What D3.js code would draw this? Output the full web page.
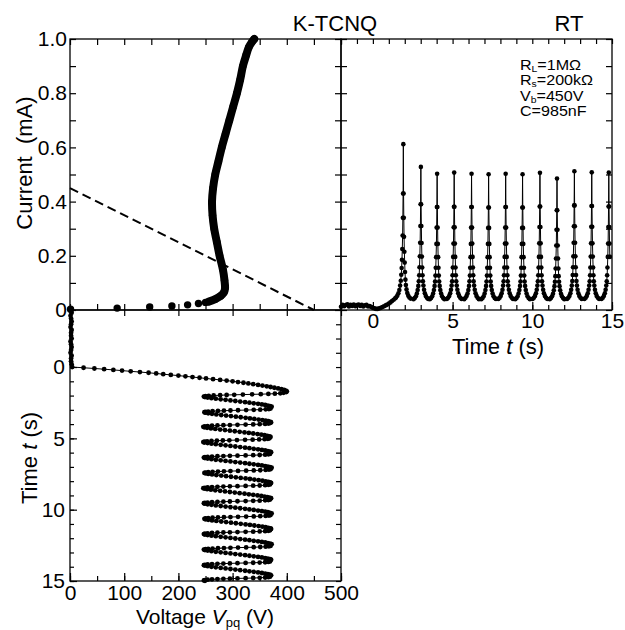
<!DOCTYPE html>
<html>
<head>
<meta charset="utf-8">
<script src="https://cdn.jsdelivr.net/npm/d3@7"></script>
<style>
body { margin:0; background:#fff; }
svg { display:block; }
</style>
</head>
<body>
<div id="chart"></div>
<script>
// K-TCNQ, RT: I-V curve (top left), I(t) (top right), V(t) (bottom left)

// I-V panel: voltage (V), current (mA)
var ivDotVoltage = [1, 87, 147, 188, 217, 237, 250];
var ivDotCurrent = [0.003, 0.007, 0.011, 0.015, 0.019, 0.024, 0.028];
var ivBandVoltage = [256, 268, 278, 284, 286, 285, 282, 276, 271, 266, 263, 262, 264, 268, 274, 280, 287, 294, 301, 308, 314, 319, 325, 330, 336, 340];
var ivBandCurrent = [0.031, 0.04, 0.052, 0.065, 0.08, 0.11, 0.15, 0.2, 0.25, 0.3, 0.35, 0.4, 0.45, 0.5, 0.55, 0.6, 0.65, 0.7, 0.75, 0.8, 0.85, 0.9, 0.94, 0.97, 0.99, 1.0];
var loadVoltage = [0, 450];
var loadCurrent = [0.45, 0];

// current before the first spike
var preTime = [-2.0, -1.9, -1.8, -1.7, -1.6, -1.5, -1.4, -1.3, -1.2, -1.1, -1.0, -0.9, -0.8, -0.7, -0.6, -0.5, -0.4, -0.3, -0.2, -0.1, 0.0, 0.1, 0.2, 0.3, 0.4, 0.5, 0.6, 0.7, 0.8, 0.9, 1.0, 1.1, 1.2, 1.3, 1.4];
var preCurrent = [0.012, 0.019, 0.014, 0.018, 0.021, 0.013, 0.019, 0.015, 0.02, 0.014, 0.018, 0.02, 0.015, 0.019, 0.013, 0.017, 0.019, 0.013, 0.015, 0.011, 0.008, 0.006, 0.004, 0.004, 0.006, 0.008, 0.011, 0.014, 0.017, 0.02, 0.024, 0.028, 0.033, 0.038, 0.043];

// spike peak times (s); each row of the tables below is one cycle
var spikeTimes = [1.91, 3.01, 4.03, 5.10, 6.19, 7.26, 8.33, 9.39, 10.48, 11.55, 12.64, 13.73, 14.80];

// current around each spike, at these offsets from the peak (s)
var spikeOffsets = [-0.46, -0.38, -0.31, -0.25, -0.20, -0.16, -0.13, -0.105, -0.085, -0.065, -0.045, -0.03, -0.015, 0, 0.015, 0.03, 0.045, 0.065, 0.085, 0.105, 0.13, 0.16, 0.20, 0.25, 0.31, 0.38, 0.46];
var spikeCurrents = [
  [0.046, 0.053, 0.062, 0.074, 0.090, 0.108, 0.130, 0.155, 0.185, 0.225, 0.275, 0.340, 0.430, 0.612, 0.430, 0.340, 0.270, 0.215, 0.175, 0.140, 0.112, 0.092, 0.076, 0.063, 0.053, 0.046, 0.042],
  [0.040, 0.044, 0.051, 0.061, 0.074, 0.089, 0.106, 0.128, 0.158, 0.198, 0.248, 0.310, 0.390, 0.528, 0.390, 0.310, 0.247, 0.197, 0.157, 0.128, 0.106, 0.090, 0.075, 0.062, 0.052, 0.045, 0.041],
  [0.040, 0.044, 0.051, 0.061, 0.074, 0.089, 0.105, 0.127, 0.156, 0.195, 0.244, 0.304, 0.380, 0.503, 0.380, 0.304, 0.244, 0.195, 0.156, 0.127, 0.105, 0.089, 0.074, 0.061, 0.051, 0.044, 0.040],
  [0.041, 0.045, 0.052, 0.062, 0.075, 0.090, 0.106, 0.128, 0.157, 0.196, 0.245, 0.305, 0.381, 0.507, 0.381, 0.305, 0.245, 0.196, 0.157, 0.128, 0.106, 0.090, 0.075, 0.062, 0.052, 0.045, 0.041],
  [0.040, 0.045, 0.052, 0.061, 0.074, 0.089, 0.106, 0.127, 0.156, 0.195, 0.244, 0.304, 0.380, 0.503, 0.380, 0.304, 0.245, 0.196, 0.157, 0.128, 0.106, 0.090, 0.075, 0.062, 0.052, 0.045, 0.040],
  [0.040, 0.044, 0.051, 0.061, 0.074, 0.089, 0.105, 0.127, 0.156, 0.195, 0.244, 0.303, 0.378, 0.501, 0.378, 0.303, 0.244, 0.195, 0.156, 0.127, 0.105, 0.089, 0.074, 0.061, 0.051, 0.044, 0.041],
  [0.041, 0.045, 0.052, 0.062, 0.075, 0.090, 0.106, 0.128, 0.157, 0.196, 0.245, 0.304, 0.380, 0.503, 0.380, 0.304, 0.245, 0.196, 0.157, 0.128, 0.106, 0.090, 0.075, 0.062, 0.052, 0.045, 0.041],
  [0.040, 0.044, 0.051, 0.061, 0.074, 0.089, 0.105, 0.127, 0.156, 0.195, 0.244, 0.303, 0.378, 0.501, 0.378, 0.303, 0.244, 0.195, 0.156, 0.127, 0.105, 0.089, 0.074, 0.061, 0.051, 0.044, 0.040],
  [0.041, 0.045, 0.052, 0.062, 0.075, 0.090, 0.106, 0.128, 0.157, 0.196, 0.246, 0.306, 0.382, 0.506, 0.382, 0.306, 0.246, 0.196, 0.157, 0.128, 0.106, 0.090, 0.075, 0.062, 0.052, 0.045, 0.041],
  [0.040, 0.044, 0.051, 0.060, 0.073, 0.088, 0.104, 0.125, 0.153, 0.190, 0.238, 0.296, 0.368, 0.485, 0.368, 0.296, 0.238, 0.190, 0.153, 0.125, 0.104, 0.088, 0.073, 0.060, 0.051, 0.044, 0.040],
  [0.041, 0.045, 0.052, 0.062, 0.075, 0.090, 0.107, 0.129, 0.158, 0.198, 0.248, 0.309, 0.386, 0.512, 0.386, 0.309, 0.248, 0.198, 0.158, 0.129, 0.107, 0.090, 0.075, 0.062, 0.052, 0.045, 0.041],
  [0.041, 0.045, 0.052, 0.062, 0.075, 0.090, 0.106, 0.128, 0.157, 0.197, 0.246, 0.307, 0.384, 0.508, 0.384, 0.307, 0.246, 0.197, 0.157, 0.128, 0.106, 0.090, 0.075, 0.062, 0.052, 0.045, 0.041],
  [0.041, 0.045, 0.052, 0.062, 0.075, 0.090, 0.106, 0.128, 0.157, 0.196, 0.245, 0.306, 0.382, 0.507, 0.382, 0.306, 0.245, 0.196]
];

// voltage before the first drop
var vStartTime = [-4.0, -3.8, -3.6, -3.4, -3.2, -3.0, -2.8, -2.6, -2.4, -2.2, -2.0, -1.8, -1.6, -1.4, -1.2, -1.0, -0.8, -0.6, -0.4, -0.2, 0.0, 0.05, 0.10, 0.15, 0.20, 0.25, 0.30, 0.35, 0.40, 0.45, 0.50, 0.55, 0.60, 0.65, 0.70, 0.75, 0.80, 0.85, 0.90, 0.95, 1.00, 1.05, 1.10, 1.15, 1.20, 1.25, 1.30, 1.35, 1.40, 1.45, 1.50, 1.55, 1.60, 1.65, 1.70, 1.75];
var vStartVoltage = [2, 3, 1, 2, 3, 2, 1, 3, 2, 2, 3, 1, 2, 3, 2, 1, 3, 2, 2, 3, 4, 25, 45, 63, 80, 96, 112, 129, 145, 159, 172, 186, 200, 213, 226, 239, 251, 264, 277, 289, 300, 310, 320, 329, 338, 347, 355, 363, 370, 377, 384, 390, 395, 398, 400, 399];

// voltage in each cycle, at these offsets from the spike time (s)
var cycleOffsets = [-0.10, -0.07, -0.045, -0.025, -0.01, 0.005, 0.02, 0.035, 0.05, 0.065, 0.085, 0.11, 0.135, 0.16, 0.19, 0.23, 0.27, 0.31, 0.35, 0.39, 0.43, 0.47, 0.51, 0.55, 0.59, 0.63, 0.67, 0.71, 0.75, 0.79, 0.83, 0.87];
var cycleVoltages = [
  [394, 388, 378, 366, 352, 336, 319, 303, 289, 277, 265, 256, 250, 247, 249, 254, 261, 269, 278, 287, 296, 305, 314, 323, 331, 339, 347, 354, 360, 365, 369, 372],
  [370, 367, 361, 351, 339, 325, 310, 296, 284, 273, 263, 255, 250, 248, 250, 255, 262, 270, 279, 288, 297, 306, 315, 324, 332, 340, 348, 355, 361, 366, 370, 371],
  [369, 366, 360, 350, 338, 324, 309, 295, 283, 272, 262, 254, 249, 246, 248, 253, 260, 268, 277, 286, 295, 304, 313, 322, 330, 338, 346, 353, 359, 364, 368, 370],
  [368, 365, 359, 349, 337, 323, 308, 294, 282, 271, 261, 253, 248, 246, 248, 254, 261, 269, 278, 287, 296, 305, 314, 323, 331, 339, 347, 354, 360, 365, 369, 371],
  [369, 366, 360, 350, 338, 324, 309, 295, 283, 272, 262, 254, 249, 247, 249, 254, 261, 269, 278, 287, 296, 305, 314, 323, 331, 339, 347, 354, 360, 365, 369, 372],
  [370, 367, 361, 351, 339, 325, 310, 296, 284, 273, 263, 255, 250, 248, 250, 255, 262, 270, 279, 288, 297, 306, 315, 324, 332, 340, 348, 355, 361, 366, 369, 371],
  [369, 366, 360, 350, 338, 324, 309, 295, 283, 272, 262, 254, 249, 246, 248, 253, 260, 268, 277, 286, 295, 304, 313, 322, 330, 338, 346, 353, 359, 364, 368, 371],
  [369, 366, 360, 350, 338, 324, 309, 295, 283, 272, 262, 254, 249, 247, 249, 254, 261, 269, 278, 287, 296, 305, 314, 323, 331, 339, 347, 354, 360, 365, 369, 372],
  [370, 367, 361, 351, 339, 325, 310, 296, 284, 273, 263, 255, 250, 248, 250, 255, 262, 270, 279, 288, 297, 306, 315, 324, 332, 340, 348, 355, 361, 366, 370, 371],
  [369, 366, 360, 350, 338, 324, 309, 295, 283, 272, 262, 254, 249, 247, 249, 254, 261, 269, 278, 287, 296, 305, 314, 323, 331, 339, 347, 354, 360, 365, 369, 372],
  [370, 367, 361, 351, 339, 325, 310, 296, 284, 273, 263, 255, 250, 247, 249, 254, 261, 269, 278, 287, 296, 305, 314, 323, 331, 339, 347, 354, 360, 365, 369, 371],
  [369, 366, 360, 350, 338, 324, 309, 295, 283, 272, 262, 254, 249, 247, 249, 254, 261, 269, 278, 287, 296, 305, 314, 323, 331, 339, 347, 354, 360, 365, 369, 371],
  [369, 366, 360, 350, 338, 324, 309, 295, 283, 272, 262, 254, 249, 247, 249]
];

var legendLines = [['R', 'L', '=1M\u03A9'], ['R', 's', '=200k\u03A9'], ['V', 'b', '=450V'], ['C', '', '=985nF']];

var FONT = "'Liberation Sans', Arial, Helvetica, sans-serif";
var W = 625, H = 630;
var L = 70, T = 39, S = 271;

var svg = d3.select('#chart').append('svg')
    .attr('width', W)
    .attr('height', H)
    .style('font-family', FONT);

var xV = d3.scaleLinear().domain([0, 500]).range([L, L + S]);
var yI = d3.scaleLinear().domain([0, 1]).range([T + S, T]);
var xT = d3.scaleLinear().domain([-2, 15]).range([L + S, L + 2 * S]);
var yT = d3.scaleLinear().domain([-4, 15]).range([T + S, T + 2 * S]);

function steps(a, b, s) {
    return d3.range(Math.round((b - a) / s) + 1).map(function(i) { return +(a + i * s).toFixed(4); });
}

// inward ticks, labels optional
function ticks(axis, values, size, x, y, fmt, pad) {
    axis.tickValues(values)
        .tickSize(-size)
        .tickSizeOuter(0)
        .tickPadding(pad || 3)
        .tickFormat(fmt || '');
    var g = svg.append('g')
        .attr('transform', 'translate(' + x + ',' + y + ')')
        .call(axis);
    g.attr('font-family', FONT).attr('font-size', 21);
    g.select('.domain').remove();
    g.selectAll('.tick line').attr('stroke', '#000').attr('stroke-width', 1.2);
    g.selectAll('.tick text').attr('fill', '#000');
    return g;
}

// panel A: I-V
ticks(d3.axisLeft(yI), steps(0, 1, 0.1), 6, L, 0, function(d, i) {
    return i % 2 ? '' : (d === 0 ? '0' : d.toFixed(1));
});
ticks(d3.axisRight(yI), steps(0, 1, 0.1), 6, L + S, 0);
ticks(d3.axisTop(xV), steps(0, 500, 50), 6, 0, T);
ticks(d3.axisBottom(xV), steps(0, 500, 50), 6, 0, T + S);

// panel B: I(t)
ticks(d3.axisLeft(yI), steps(0, 1, 0.1), 6, L + S, 0);
ticks(d3.axisRight(yI), steps(0, 1, 0.1), 6, L + 2 * S, 0);
ticks(d3.axisTop(xT), steps(-2, 15, 1), 5, 0, T);
ticks(d3.axisBottom(xT), steps(-2, 15, 1), 5, 0, T + S);
ticks(d3.axisBottom(xT), [0, 5, 10, 15], 8, 0, T + S, function(d) { return d; }, 3);

// panel C: V(t)
ticks(d3.axisTop(xV), steps(0, 500, 100), 6, 0, T + S);
ticks(d3.axisLeft(yT), steps(0, 15, 1), 4, L, 0);
ticks(d3.axisLeft(yT), [0, 5, 10, 15], 7, L, 0, function(d) { return d; }, 5);
ticks(d3.axisRight(yT), steps(-3, 15, 1), 5, L + S, 0);
ticks(d3.axisBottom(xV), steps(0, 500, 50), 5, 0, T + 2 * S);
ticks(d3.axisBottom(xV), steps(0, 500, 100), 8, 0, T + 2 * S, function(d) { return d; }, 4);

// frames
[[L, T], [L + S, T], [L, T + S]].forEach(function(p) {
    svg.append('rect')
        .attr('x', p[0]).attr('y', p[1])
        .attr('width', S).attr('height', S)
        .attr('fill', 'none')
        .attr('stroke', '#000')
        .attr('stroke-width', 1.3);
});

// load line
svg.append('path')
    .datum(loadVoltage.map(function(v, i) { return [v, loadCurrent[i]]; }))
    .attr('d', d3.line().x(function(d) { return xV(d[0]); }).y(function(d) { return yI(d[1]); }))
    .attr('fill', 'none')
    .attr('stroke', '#000')
    .attr('stroke-width', 2)
    .attr('stroke-dasharray', '9,5');

// I-V band
var ivBand = ivBandVoltage.map(function(v, i) { return [v, ivBandCurrent[i]]; });
svg.append('path')
    .datum(ivBand)
    .attr('d', d3.line().curve(d3.curveCatmullRom)
        .x(function(d) { return xV(d[0]); })
        .y(function(d) { return yI(d[1]); }))
    .attr('fill', 'none')
    .attr('stroke', '#000')
    .attr('stroke-width', 8)
    .attr('stroke-linecap', 'round')
    .attr('stroke-linejoin', 'round');

var ivDots = ivDotVoltage.map(function(v, i) { return [v, ivDotCurrent[i]]; }).concat(ivBand);
svg.append('g').selectAll('circle')
    .data(ivDots)
    .enter().append('circle')
    .attr('cx', function(d) { return xV(d[0]); })
    .attr('cy', function(d) { return yI(d[1]); })
    .attr('r', 3.7)
    .attr('fill', '#000');

// I(t) series
var currentSeries = preTime.map(function(t, i) { return [t, preCurrent[i]]; });
spikeTimes.forEach(function(tk, k) {
    spikeCurrents[k].forEach(function(c, j) {
        currentSeries.push([tk + spikeOffsets[j], c]);
    });
});

svg.append('path')
    .datum(currentSeries)
    .attr('d', d3.line().x(function(d) { return xT(d[0]); }).y(function(d) { return yI(d[1]); }))
    .attr('fill', 'none')
    .attr('stroke', '#000')
    .attr('stroke-width', 1);

svg.append('g').selectAll('circle')
    .data(currentSeries)
    .enter().append('circle')
    .attr('cx', function(d) { return xT(d[0]); })
    .attr('cy', function(d) { return yI(d[1]); })
    .attr('r', 2.3)
    .attr('fill', '#000');

// V(t) series
var voltageSeries = vStartTime.map(function(t, i) { return [t, vStartVoltage[i]]; });
spikeTimes.forEach(function(tk, k) {
    cycleVoltages[k].forEach(function(v, j) {
        voltageSeries.push([tk + cycleOffsets[j], v]);
    });
});

svg.append('path')
    .datum(voltageSeries)
    .attr('d', d3.line().x(function(d) { return xV(d[1]); }).y(function(d) { return yT(d[0]); }))
    .attr('fill', 'none')
    .attr('stroke', '#000')
    .attr('stroke-width', 1);

svg.append('g').selectAll('circle')
    .data(voltageSeries)
    .enter().append('circle')
    .attr('cx', function(d) { return xV(d[1]); })
    .attr('cy', function(d) { return yT(d[0]); })
    .attr('r', 2.4)
    .attr('fill', '#000');

// titles
svg.append('text').attr('x', 335).attr('y', 31)
    .attr('text-anchor', 'middle').attr('font-size', 22).text('K-TCNQ');
svg.append('text').attr('x', 569).attr('y', 31)
    .attr('text-anchor', 'middle').attr('font-size', 22).text('RT');

// legend (slightly wide lettering, as in the figure)
legendLines.forEach(function(p, i) {
    var t = svg.append('text')
        .attr('transform', 'translate(520,' + (69.5 + i * 15.5) + ') scale(1.15,1)')
        .attr('font-size', 14);
    t.append('tspan').text(p[0]);
    if (p[1]) {
        t.append('tspan').attr('dy', 2).attr('font-size', 9).text(p[1]);
        t.append('tspan').attr('dy', -2).text(p[2]);
    } else {
        t.append('tspan').text(p[2]);
    }
});

// axis titles
svg.append('text')
    .attr('transform', 'translate(32,163) rotate(-90)')
    .attr('text-anchor', 'middle')
    .attr('font-size', 22)
    .style('white-space', 'pre')
    .text('Current  (mA)');

var tc = svg.append('text')
    .attr('transform', 'translate(37,458) rotate(-90)')
    .attr('text-anchor', 'middle')
    .attr('font-size', 22);
tc.append('tspan').text('Time ');
tc.append('tspan').attr('font-style', 'italic').text('t');
tc.append('tspan').text(' (s)');

var tb = svg.append('text')
    .attr('x', 498).attr('y', 354)
    .attr('text-anchor', 'middle')
    .attr('font-size', 22);
tb.append('tspan').text('Time ');
tb.append('tspan').attr('font-style', 'italic').text('t');
tb.append('tspan').text(' (s)');

var tv = svg.append('text')
    .attr('x', 205).attr('y', 623.5)
    .attr('text-anchor', 'middle')
    .attr('font-size', 21);
tv.append('tspan').text('Voltage ');
tv.append('tspan').attr('font-style', 'italic').text('V');
tv.append('tspan').attr('dy', 3).attr('font-size', 13).text('pq');
tv.append('tspan').attr('dy', -3).text(' (V)');
</script>
</body>
</html>
